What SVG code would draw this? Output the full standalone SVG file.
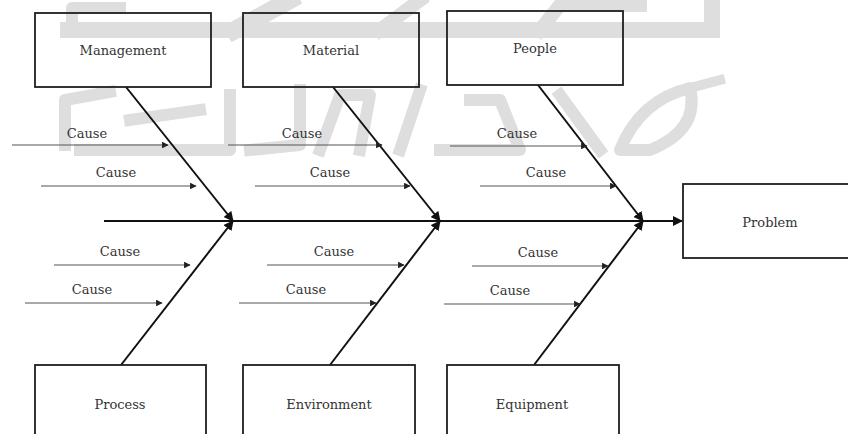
<svg xmlns="http://www.w3.org/2000/svg" width="848" height="434" viewBox="0 0 848 434">
<defs>
<style>
.box{fill:none;stroke:#1e1e1e;stroke-width:1.8}
.lbl{font-family:"DejaVu Serif",serif;font-size:13px;fill:#333;text-anchor:middle}
.bone{stroke:#111;stroke-width:2;fill:none}
.cause{stroke:#555;stroke-width:1.1;fill:none}
.wm{fill:none;stroke:#dedede;stroke-linecap:square;stroke-linejoin:round}
</style>
<marker id="bigArrow" viewBox="0 0 10 10" refX="9" refY="5" markerWidth="5" markerHeight="5" orient="auto" markerUnits="strokeWidth">
<path d="M0,0 L10,5 L0,10 z" fill="#111"/>
</marker>
<marker id="smallArrow" viewBox="0 0 10 10" refX="9" refY="5" markerWidth="8" markerHeight="6" orient="auto" markerUnits="strokeWidth">
<path d="M0,0 L10,5 L0,10 z" fill="#222"/>
</marker>
</defs>
<rect width="848" height="434" fill="#fff"/>
<g id="watermark">
<path class="wm" stroke-width="16" d="M68,30 L712,30"/>
<path class="wm" stroke-width="16" d="M712,0 L712,30"/>
<path class="wm" stroke-width="12" d="M72,30 L72,8 L120,8"/>
<path class="wm" stroke-width="18" d="M235,30 L290,0"/>
<path class="wm" stroke-width="14" d="M380,30 L420,0"/>
<path class="wm" stroke-width="14" d="M540,30 L560,5 L640,5"/>
<path class="wm" stroke-width="12" d="M65,145 L65,100 L110,92"/>
<path class="wm" stroke-width="12" d="M80,150 L230,150 L230,95"/>
<path class="wm" stroke-width="12" d="M130,120 L200,110"/>
<path class="wm" stroke-width="12" d="M250,150 L300,145 L300,90"/>
<path class="wm" stroke-width="12" d="M320,150 L340,95 L370,95 L360,150"/>
<path class="wm" stroke-width="12" d="M400,150 L420,90"/>
<path class="wm" stroke-width="12" d="M440,150 L520,150 L500,100 L470,100"/>
<path class="wm" stroke-width="12" d="M560,95 L600,150"/>
<path class="wm" stroke-width="12" d="M620,150 Q640,100 690,88 Q700,130 650,150 Z"/>
<path class="wm" stroke-width="10" d="M690,88 L720,80"/>
</g>
<g id="connectors">
<line class="bone" x1="104" y1="221" x2="682" y2="221" marker-end="url(#bigArrow)"/>
<line class="bone" x1="126" y1="87" x2="233" y2="221" marker-end="url(#bigArrow)"/>
<line class="bone" x1="333" y1="87" x2="440" y2="221" marker-end="url(#bigArrow)"/>
<line class="bone" x1="538" y1="85" x2="643" y2="221" marker-end="url(#bigArrow)"/>
<line class="bone" x1="121" y1="365" x2="233" y2="221" marker-end="url(#bigArrow)"/>
<line class="bone" x1="330" y1="365" x2="440" y2="221" marker-end="url(#bigArrow)"/>
<line class="bone" x1="534" y1="365" x2="643" y2="221" marker-end="url(#bigArrow)"/>
<line class="cause" x1="12" y1="145" x2="168" y2="145" marker-end="url(#smallArrow)"/>
<line class="cause" x1="41" y1="186" x2="196" y2="186" marker-end="url(#smallArrow)"/>
<line class="cause" x1="228" y1="145" x2="382" y2="145" marker-end="url(#smallArrow)"/>
<line class="cause" x1="255" y1="186" x2="410" y2="186" marker-end="url(#smallArrow)"/>
<line class="cause" x1="450" y1="146" x2="587" y2="146" marker-end="url(#smallArrow)"/>
<line class="cause" x1="480" y1="186" x2="616" y2="186" marker-end="url(#smallArrow)"/>
<line class="cause" x1="54" y1="265" x2="190" y2="265" marker-end="url(#smallArrow)"/>
<line class="cause" x1="25" y1="303" x2="162" y2="303" marker-end="url(#smallArrow)"/>
<line class="cause" x1="267" y1="265" x2="404" y2="265" marker-end="url(#smallArrow)"/>
<line class="cause" x1="239" y1="303" x2="376" y2="303" marker-end="url(#smallArrow)"/>
<line class="cause" x1="472" y1="266" x2="608" y2="266" marker-end="url(#smallArrow)"/>
<line class="cause" x1="444" y1="304" x2="580" y2="304" marker-end="url(#smallArrow)"/>
</g>
<g id="cause-labels">
<text class="lbl" x="87" y="138">Cause</text>
<text class="lbl" x="116" y="177">Cause</text>
<text class="lbl" x="302" y="138">Cause</text>
<text class="lbl" x="330" y="177">Cause</text>
<text class="lbl" x="517" y="138">Cause</text>
<text class="lbl" x="546" y="177">Cause</text>
<text class="lbl" x="120" y="256">Cause</text>
<text class="lbl" x="92" y="294">Cause</text>
<text class="lbl" x="334" y="256">Cause</text>
<text class="lbl" x="306" y="294">Cause</text>
<text class="lbl" x="538" y="257">Cause</text>
<text class="lbl" x="510" y="295">Cause</text>
</g>
<g id="management"><rect class="box" x="35" y="13" width="176" height="74"/><text class="lbl" x="123" y="55">Management</text></g>
<g id="material"><rect class="box" x="243" y="13" width="176" height="74"/><text class="lbl" x="331" y="55">Material</text></g>
<g id="people"><rect class="box" x="447" y="11" width="176" height="74"/><text class="lbl" x="535" y="53">People</text></g>
<g id="problem"><rect class="box" x="683" y="184" width="180" height="74"/><text class="lbl" x="770" y="227">Problem</text></g>
<g id="process"><rect class="box" x="35" y="365" width="171" height="80"/><text class="lbl" x="120" y="409">Process</text></g>
<g id="environment"><rect class="box" x="243" y="365" width="172" height="80"/><text class="lbl" x="329" y="409">Environment</text></g>
<g id="equipment"><rect class="box" x="447" y="365" width="172" height="80"/><text class="lbl" x="532" y="409">Equipment</text></g>
</svg>
